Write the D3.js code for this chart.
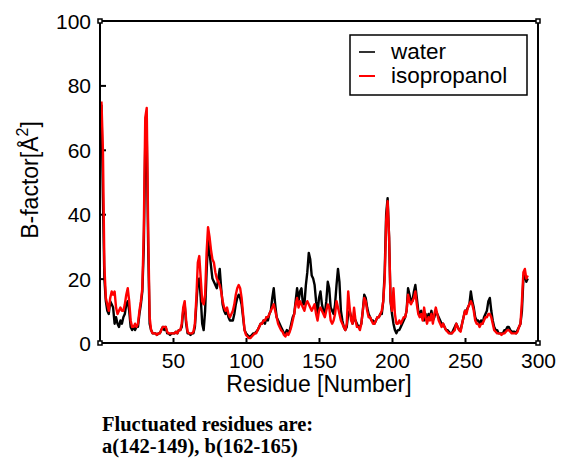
<!DOCTYPE html>
<html>
<head>
<meta charset="utf-8">
<script src="https://cdn.jsdelivr.net/npm/d3@7"></script>
<style>
  body { margin: 0; background: #fff; }
  svg { display: block; }
  .axis text { font-family: "Liberation Sans", Arial, sans-serif; font-size: 21px; fill: #000; }
  .axis line, .axis path { stroke: #000; stroke-width: 2; }
</style>
</head>
<body>
<div id="chart"></div>
<script>
// residue numbers 1..293
var residues = d3.range(1, 294);

// B-factor, water (black)
var water = [
  74, 45, 20, 13, 10, 9, 13, 12, 11, 6,
  8, 6, 5, 7, 6, 8, 9, 12, 13, 10,
  5, 4, 5, 4, 5, 5, 9, 12, 16, 30,
  62, 65, 30, 6, 4, 3, 3, 3, 2.5, 3,
  3, 4, 5, 4, 5, 3, 3, 2.5, 3, 3,
  3, 3.5, 3, 4, 4, 5, 10, 12, 6, 3,
  3, 2.5, 3, 3, 5, 12, 19, 20, 14, 6,
  4, 10, 22, 32, 28, 24, 20, 19, 18, 17,
  20, 23, 17, 12, 10, 9, 10, 8, 7, 7,
  7, 9, 12, 14, 15, 14, 12, 8, 4, 3,
  2.5, 2, 2, 2.5, 3, 3, 3.5, 4, 5, 6,
  6, 7, 6, 8, 7, 9, 10, 14, 17, 12,
  8, 7, 6, 5, 4, 3, 3, 4, 3, 4,
  6, 8, 9, 13, 17, 13, 16, 17, 12, 12,
  18, 22, 28, 26, 21, 20, 18, 13, 9, 14,
  16, 12, 10, 9, 13, 19, 17, 11, 10, 9,
  12, 18, 23, 19, 10, 7, 5, 4, 5, 9,
  10, 8, 6, 8, 7, 6, 5, 5, 6, 10,
  15, 14, 11, 9, 8, 7, 7, 6, 7, 8,
  8, 9, 9, 13, 22, 40, 45, 33, 13, 9,
  6, 4, 3, 4, 4, 5, 6, 7, 8, 10,
  17, 15, 13, 13, 16, 18, 14, 10, 9, 10,
  8, 7, 9, 7, 9, 8, 10, 7, 8, 10,
  9, 8, 7, 6, 6, 5, 4, 4, 3.5, 3,
  3, 4, 5, 6, 5, 4, 4, 6, 8, 10,
  10, 11, 12, 16, 13, 11, 8, 7, 7, 6,
  7, 6, 8, 9, 10, 13, 14, 10, 7, 5,
  4, 4, 3, 3, 3, 3, 4, 4, 5, 5,
  4, 3.5, 3.5, 3.5, 3, 4, 5, 6, 10, 20,
  21, 19, 20
];

// B-factor, isopropanol (red)
var isopropanol = [
  75, 60, 24, 14, 12, 10, 14, 16, 15, 16,
  11, 9, 10, 11, 10, 10, 12, 15, 17, 13,
  7, 5, 5, 6, 5, 6, 10, 13, 17, 35,
  70, 73, 35, 8, 4, 3, 3, 3, 2.5, 3,
  3, 4, 5, 5, 5, 3.5, 3, 3, 3, 3,
  3, 3.5, 3, 4, 4, 6, 11, 13, 7, 3.5,
  3, 3, 3, 3.5, 6, 14, 25, 27, 20, 13,
  12, 15, 28, 36, 33, 29, 26, 25, 22, 20,
  19, 18, 16, 13, 11, 10, 11, 9, 8, 9,
  10, 12, 15, 17, 18, 17, 14, 9, 4, 2.5,
  2, 1.5, 1.5, 2, 2.5, 3, 3, 4, 5, 6,
  6, 7, 7, 8, 8, 9, 10, 11, 12, 10,
  8, 6, 5, 4, 3.5, 2.5, 2, 3, 2.5, 3.5,
  5, 7, 9, 12, 14, 11, 13, 12, 11, 10,
  12, 13, 12, 11, 10, 11, 12, 9, 7, 10,
  11, 10, 9, 8, 10, 12, 11, 7, 6, 7,
  9, 13, 11, 9, 7, 6, 5, 4, 6, 16,
  11, 7, 6, 11, 7, 5, 5, 4, 6, 10,
  14, 13, 10, 8, 8, 7, 6, 6, 7, 8,
  8, 9, 10, 13, 20, 38, 44, 33, 13, 10,
  17, 9, 6, 6, 7, 6, 7, 8, 8, 10,
  15, 13, 12, 13, 14, 16, 12, 9, 8, 9,
  7, 11, 8, 6, 8, 7, 9, 6, 9, 11,
  9, 7, 6, 5, 6, 5, 4, 3.5, 3, 3,
  3, 3.5, 4, 6, 5, 4, 3.5, 6, 8, 10,
  9, 11, 12, 13, 12, 10, 7, 6, 6, 5,
  6, 6, 7, 8, 8, 9, 9, 8, 6, 4,
  3.5, 3, 3, 3, 2.5, 3, 3, 3.5, 4, 4,
  3.5, 3, 3, 3, 3, 3.5, 5, 6, 13, 22,
  23, 20, 21
];

var seriesNames = ["water", "isopropanol"];
var seriesColors = ["#000", "#ff0000"];
var legendColors = ["#333", "#ff0000"];
var xTicks = [50, 100, 150, 200, 250, 300];
var yTicks = [0, 20, 40, 60, 80, 100];
var captionLines = ["Fluctuated residues are:", "a(142-149), b(162-165)"];

var width = 562, height = 461;
var margin = {left: 100, right: 24, top: 21, bottom: 118};

var svg = d3.select("#chart").append("svg")
    .attr("width", width)
    .attr("height", height);

var x = d3.scaleLinear().domain([0, 300]).range([margin.left, width - margin.right]);
var y = d3.scaleLinear().domain([0, 100]).range([height - margin.bottom, margin.top]);

// y axis
var yAxis = d3.axisLeft(y)
    .tickValues(yTicks)
    .tickSizeInner(-6)
    .tickSizeOuter(0)
    .tickPadding(9);
svg.append("g")
    .attr("class", "axis")
    .attr("transform", "translate(" + margin.left + ",0)")
    .call(yAxis)
    .call(function(g) {
      g.select(".domain").remove();
      g.selectAll(".tick line").filter(function(d) { return d === 0 || d === 100; }).remove();
      g.selectAll(".tick text").attr("dy", "0.36em");
    });

// x axis
var xAxis = d3.axisBottom(x)
    .tickValues(xTicks)
    .tickSizeInner(-5)
    .tickSizeOuter(0)
    .tickPadding(10);
svg.append("g")
    .attr("class", "axis")
    .attr("transform", "translate(0," + y(0) + ")")
    .call(xAxis)
    .call(function(g) {
      g.select(".domain").remove();
      g.selectAll(".tick line").filter(function(d) { return d === 300; }).remove();
    });

var line = d3.line()
    .x(function(d, i) { return x(residues[i]); })
    .y(function(d) { return y(d); });

svg.append("path")
    .datum(water)
    .attr("d", line)
    .style("fill", "none")
    .style("stroke", seriesColors[0])
    .style("stroke-width", 2.4)
    .style("stroke-linejoin", "round");

svg.append("path")
    .datum(isopropanol)
    .attr("d", line)
    .style("fill", "none")
    .style("stroke", seriesColors[1])
    .style("stroke-width", 2.4)
    .style("stroke-linejoin", "round");

// frame
svg.append("rect")
    .attr("x", x(0))
    .attr("y", y(100))
    .attr("width", x(300) - x(0))
    .attr("height", y(0) - y(100))
    .style("fill", "none")
    .style("stroke", "#000")
    .style("stroke-width", 2);

// little corner squares
[[0, 0], [0, 100], [300, 100], [300, 0]].forEach(function(c) {
  svg.append("rect")
      .attr("x", x(c[0]) - 2)
      .attr("y", y(c[1]) - 2)
      .attr("width", 4)
      .attr("height", 4)
      .style("fill", "#fff")
      .style("stroke", "#000")
      .style("stroke-width", 1.5);
});

// axis titles
svg.append("text")
    .attr("x", (x(0) + x(300)) / 2)
    .attr("y", 392)
    .attr("text-anchor", "middle")
    .style("font-family", "Liberation Sans, Arial, sans-serif")
    .style("font-size", "23px")
    .text("Residue [Number]");

var yt = svg.append("text")
    .attr("transform", "translate(38," + 180 + ") rotate(-90)")
    .attr("text-anchor", "middle")
    .style("font-family", "Liberation Sans, Arial, sans-serif")
    .style("font-size", "23px");
yt.append("tspan").text("B-factor[Å");
yt.append("tspan").attr("dy", -10).style("font-size", "16px").text("2");
yt.append("tspan").attr("dy", 10).text("]");

// legend
var legend = svg.append("g");
legend.append("rect")
    .attr("x", 350)
    .attr("y", 35)
    .attr("width", 177)
    .attr("height", 60)
    .style("fill", "#fff")
    .style("stroke", "#000")
    .style("stroke-width", 1.5);
seriesNames.forEach(function(name, i) {
  var ly = 52 + i * 24;
  legend.append("line")
      .attr("x1", 359).attr("x2", 375)
      .attr("y1", ly).attr("y2", ly)
      .style("stroke", legendColors[i])
      .style("stroke-width", 2);
  legend.append("text")
      .attr("x", 391)
      .attr("y", ly + 7)
      .style("font-family", "Liberation Sans, Arial, sans-serif")
      .style("font-size", "22.5px")
      .text(name);
});

// caption
captionLines.forEach(function(t, i) {
  svg.append("text")
      .attr("x", 102)
      .attr("y", 431 + i * 22)
      .style("font-family", "Liberation Serif, Times New Roman, serif")
      .style("font-weight", "bold")
      .style("font-size", "20.5px")
      .text(t);
});
</script>
</body>
</html>
